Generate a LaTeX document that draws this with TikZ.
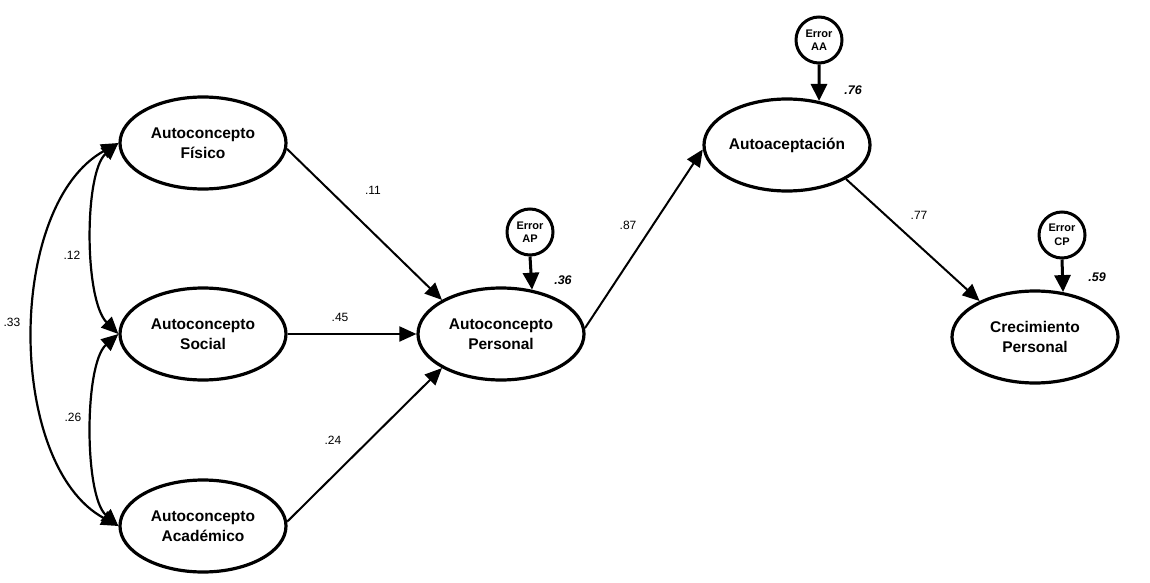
\documentclass[tikz,border=0pt]{standalone}
\usepackage{fontspec}
\setmainfont{Liberation Sans}
\usetikzlibrary{shapes.geometric,arrows.meta}
\begin{document}
\begin{tikzpicture}[x=1pt,y=-1pt,
  lat/.style={ellipse,draw,line width=3.2pt,minimum width=166pt,minimum height=92pt,inner sep=0pt,
    align=center,font=\fontsize{15.5}{20}\selectfont\bfseries},
  err/.style={circle,draw,line width=3pt,minimum size=46pt,inner sep=0pt,align=center,
    font=\fontsize{11}{13.5}\selectfont\bfseries},
  path/.style={line width=2pt,-{Triangle[length=17pt,width=15pt]}},
  cov/.style={line width=2.2pt,{Triangle[length=17pt,width=15pt]}-{Triangle[length=17pt,width=15pt]}},
  errarr/.style={line width=3pt,-{Triangle[length=17pt,width=16pt]}},
  coef/.style={font=\fontsize{12}{13}\selectfont},
  rsq/.style={font=\fontsize{12.5}{13}\selectfont\bfseries\itshape}]
\useasboundingbox (0,0) rectangle (1150,583);
\node[lat] (fis) at (203,143) {Autoconcepto\\Físico};
\node[lat] (soc) at (203,334) {Autoconcepto\\Social};
\node[lat] (aca) at (203,526) {Autoconcepto\\Académico};
\node[lat] (per) at (501,334) {Autoconcepto\\Personal};
\node[lat] (ace) at (787,145) {Autoaceptación};
\node[lat] (cre) at (1035,337) {Crecimiento\\Personal};
\node[err] (eap) at (530,232) {Error\\AP};
\node[err] (eaa) at (819,40) {Error\\AA};
\node[err] (ecp) at (1062,235) {Error\\CP};

\draw[path] (fis.-4) -- (per.150);
\draw[path] (soc.east) -- (per.west);
\draw[path] (aca.3) -- (per.210);
\draw[path] (per.4) -- (ace.183);
\draw[path] (ace.-30) -- (cre.147);
\draw[errarr] (eap.south) -- (per.55);
\draw[errarr] (eaa.south) -- (ace.54);
\draw[errarr] (ecp.south) -- (cre.58);

\draw[cov] (fis.west) .. controls (84,172) and (84,300) .. (soc.west);
\draw[cov] (soc.west) .. controls (84,364) and (84,496) .. (aca.west);
\draw[cov] (fis.west) .. controls (6,205) and (6,465) .. (aca.west);

\node[coef] (l11) at (373,190) {.11};
\node[coef] (l45) at (340,317) {.45};
\node[coef] (l24) at (333,440) {.24};
\node[coef] (l87) at (628,225) {.87};
\node[coef] (l77) at (919,215) {.77};
\node[coef] (l12) at (72,255) {.12};
\node[coef] (l26) at (73,417) {.26};
\node[coef] (l33) at (12,322) {.33};
\node[rsq] (r36) at (563,280) {.36};
\node[rsq] (r76) at (853,90) {.76};
\node[rsq] (r59) at (1097,277) {.59};
\end{tikzpicture}
\end{document}
